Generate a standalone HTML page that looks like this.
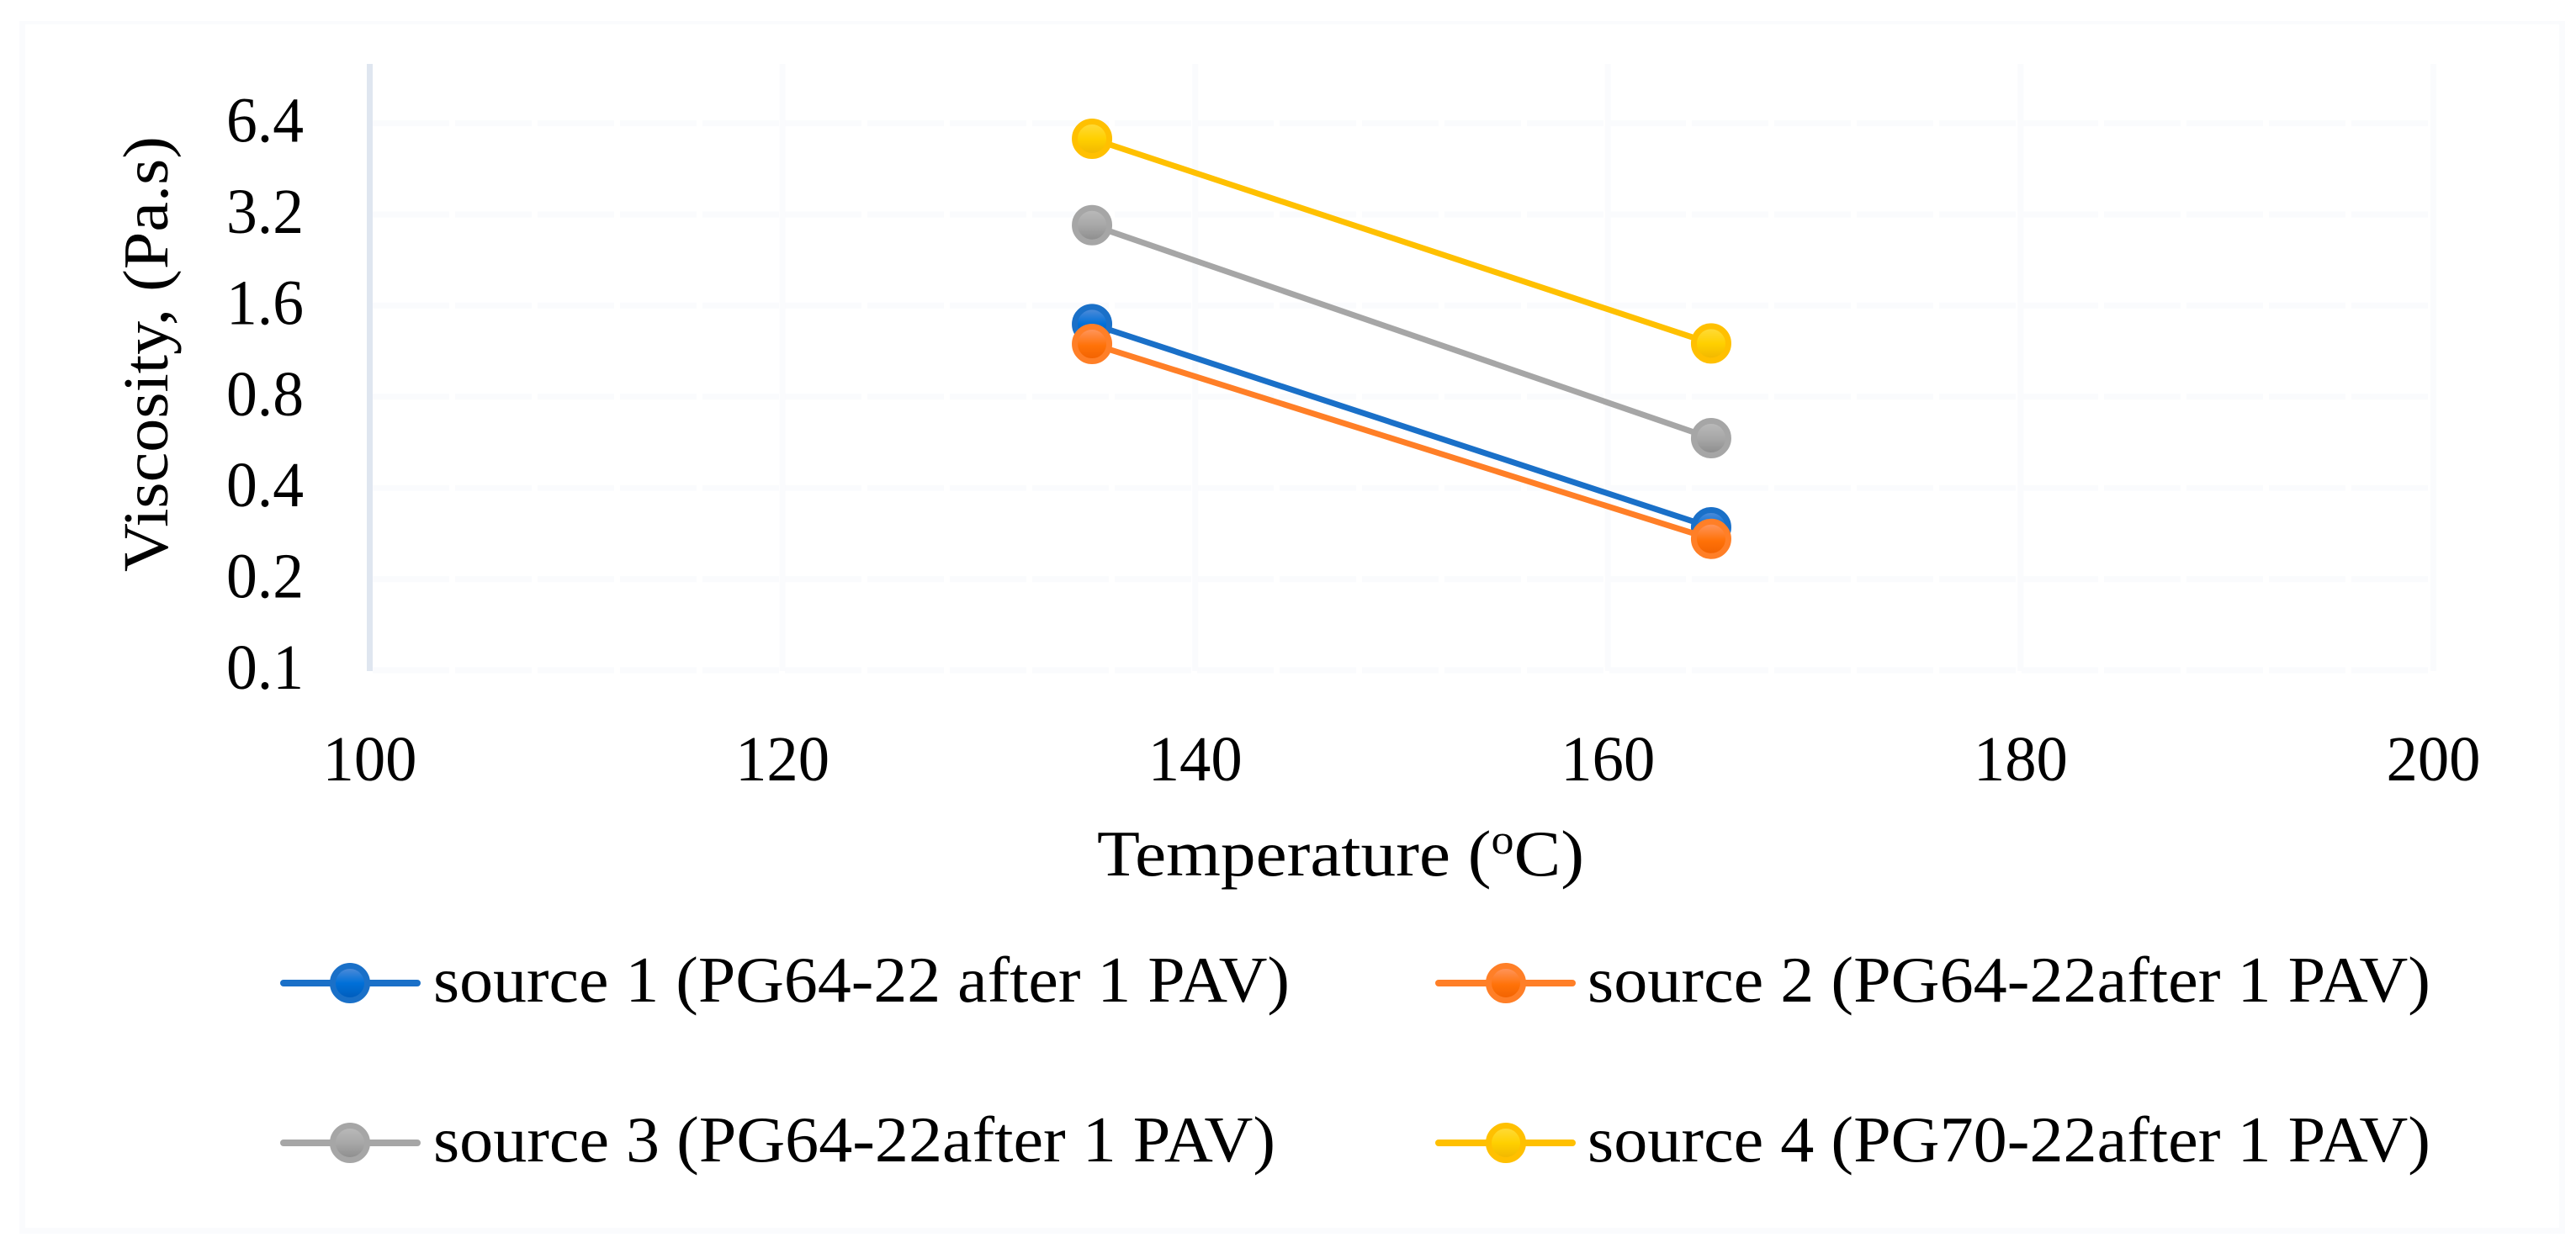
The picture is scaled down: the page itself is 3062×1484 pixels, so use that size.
<!DOCTYPE html>
<html lang="en">
<head>
<meta charset="utf-8">
<title>Viscosity vs Temperature</title>
<style>
html,body{margin:0;padding:0;background:#fff;width:3062px;height:1484px;overflow:hidden}
svg{display:block}
text{font-family:"Liberation Serif",serif;fill:#000}
</style>
</head>
<body>
<svg id="chart" xmlns="http://www.w3.org/2000/svg" width="3062" height="1484" viewBox="0 0 3062 1484">
<defs>
<linearGradient id="grad-0" x1="0" y1="0" x2="0" y2="1"><stop offset="0" stop-color="#5a8fd8"/><stop offset="0.5" stop-color="#0070d8"/><stop offset="1" stop-color="#005ab8"/></linearGradient>
<linearGradient id="grad-1" x1="0" y1="0" x2="0" y2="1"><stop offset="0" stop-color="#ff9a68"/><stop offset="0.55" stop-color="#ff7208"/><stop offset="1" stop-color="#f06000"/></linearGradient>
<linearGradient id="grad-2" x1="0" y1="0" x2="0" y2="1"><stop offset="0" stop-color="#bcbcbc"/><stop offset="0.5" stop-color="#a8a8a8"/><stop offset="1" stop-color="#8a8a8a"/></linearGradient>
<linearGradient id="grad-3" x1="0" y1="0" x2="0" y2="1"><stop offset="0" stop-color="#ffdc40"/><stop offset="0.5" stop-color="#ffd000"/><stop offset="1" stop-color="#f0b400"/></linearGradient>
</defs>
<g fill="#fafbfd">
<rect x="23" y="25" width="3026" height="4"/>
<rect x="23" y="1460" width="3026" height="7"/>
<rect x="23" y="25" width="7" height="1442"/>
<rect x="3042" y="25" width="7" height="1442"/>
</g>
<g id="grid"></g>
<rect x="436" y="76" width="7" height="722" fill="#dfe6f0"/>
<g id="ticks"></g>
<text transform="translate(199 680) rotate(-90)" font-size="76" textLength="518" lengthAdjust="spacingAndGlyphs">Viscosity, (Pa.s)</text>
<text x="1304" y="1041" font-size="77" textLength="579" lengthAdjust="spacingAndGlyphs">Temperature (<tspan font-size="50" dy="-26">o</tspan><tspan dy="26">C)</tspan></text>
<g id="series"></g>
<g>
<g>
<line x1="337" y1="1169" x2="496" y2="1169" stroke="#1a70c8" stroke-width="8" stroke-linecap="round"/>
<circle cx="416" cy="1169" r="20.5" fill="url(#grad-0)" stroke="#1a70c8" stroke-width="7"/>
<text x="515" y="1191" font-size="77" textLength="1018" lengthAdjust="spacingAndGlyphs">source 1 (PG64-22 after 1 PAV)</text>
</g>
<g>
<line x1="1710" y1="1169" x2="1869" y2="1169" stroke="#ff7f27" stroke-width="8" stroke-linecap="round"/>
<circle cx="1790" cy="1169" r="20.5" fill="url(#grad-1)" stroke="#ff7f27" stroke-width="7"/>
<text x="1887" y="1191" font-size="77" textLength="1002" lengthAdjust="spacingAndGlyphs">source 2 (PG64-22after 1 PAV)</text>
</g>
<g>
<line x1="337" y1="1359" x2="496" y2="1359" stroke="#a6a6a6" stroke-width="8" stroke-linecap="round"/>
<circle cx="416" cy="1359" r="20.5" fill="url(#grad-2)" stroke="#a6a6a6" stroke-width="7"/>
<text x="515" y="1381" font-size="77" textLength="1001" lengthAdjust="spacingAndGlyphs">source 3 (PG64-22after 1 PAV)</text>
</g>
<g>
<line x1="1710" y1="1359" x2="1869" y2="1359" stroke="#ffc000" stroke-width="8" stroke-linecap="round"/>
<circle cx="1790" cy="1359" r="20.5" fill="url(#grad-3)" stroke="#ffc000" stroke-width="7"/>
<text x="1887" y="1381" font-size="77" textLength="1002" lengthAdjust="spacingAndGlyphs">source 4 (PG70-22after 1 PAV)</text>
</g>
</g>
</svg>
<script>
const temperatures = [135, 165];
const source1 = [1.39, 0.2965];
const source2 = [1.195, 0.2715];
const source3 = [2.95, 0.584];
const source4 = [5.69, 1.20];
const yTickValues = [0.1, 0.2, 0.4, 0.8, 1.6, 3.2, 6.4];
const yTickLabels = ['0.1', '0.2', '0.4', '0.8', '1.6', '3.2', '6.4'];
const xTickValues = [100, 120, 140, 160, 180, 200];
const xTickLabels = ['100', '120', '140', '160', '180', '200'];
const seriesValues = [source1, source2, source3, source4];
const seriesNames = ['source-1', 'source-2', 'source-3', 'source-4'];
const seriesColors = ['#1a70c8', '#ff7f27', '#a6a6a6', '#ffc000'];

const NS = 'http://www.w3.org/2000/svg';
function xScale(t) { return 439.5 + (t - 100) * 24.53; }
function yScale(v) { return 797 - Math.log2(v / 0.1) * 108.4; }
function make(tag, attrs, parent) {
  const el = document.createElementNS(NS, tag);
  for (const k in attrs) el.setAttribute(k, attrs[k]);
  parent.appendChild(el);
  return el;
}
const grid = document.getElementById('grid');
const ticks = document.getElementById('ticks');
const series = document.getElementById('series');

yTickValues.forEach(function (v, i) {
  const y = yScale(v);
  const g = make('line', {x1: 443, y1: y, x2: 2889, y2: y, stroke: '#fafbfd', 'stroke-width': 7, 'stroke-dasharray': '91 7'}, grid);
  
  
  const t = make('text', {x: 361, y: y + 22, 'font-size': 76, 'text-anchor': 'end', textLength: 92, lengthAdjust: 'spacingAndGlyphs'}, ticks);
  t.textContent = yTickLabels[i];
  
  
});
xTickValues.forEach(function (v, i) {
  const x = xScale(v);
  if (i > 0) {
    const g = make('line', {x1: x, y1: 76, x2: x, y2: 798, stroke: '#fafbfd', 'stroke-width': 7}, grid);
    
    
  }
  const t = make('text', {x: x, y: 928, 'font-size': 76, 'text-anchor': 'middle', textLength: 112, lengthAdjust: 'spacingAndGlyphs'}, ticks);
  t.textContent = xTickLabels[i];
  
  
});
seriesValues.forEach(function (vals, s) {
  const pts = vals.map(function (v, i) { return xScale(temperatures[i]) + ',' + yScale(v); }).join(' ');
  const line = make('polyline', {points: pts, fill: 'none', stroke: seriesColors[s], 'stroke-width': 7}, series);
  
  
  vals.forEach(function (v, i) {
    const c = make('circle', {cx: xScale(temperatures[i]), cy: yScale(v), r: 20.5, fill: 'url(#grad-' + s + ')', stroke: seriesColors[s], 'stroke-width': 7}, series);
    
    
  });
});
</script>
</body>
</html>
